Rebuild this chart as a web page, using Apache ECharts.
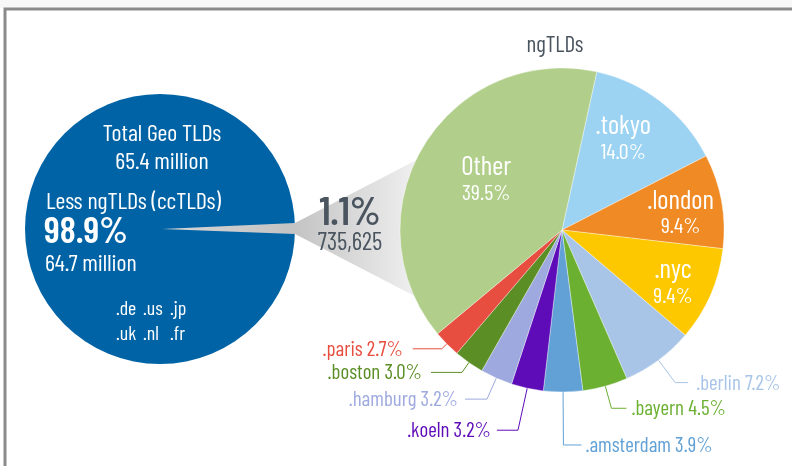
<!DOCTYPE html>
<html><head><meta charset="utf-8">
<script src="https://cdn.jsdelivr.net/npm/echarts@6/dist/echarts.min.js"></script>
<style>html,body{margin:0;padding:0;background:#fff}#c{width:792px;height:466px}</style>
</head><body><div id="c"></div>
<script>
// ---- data ----
const ngNames = ['.tokyo', '.london', '.nyc', '.berlin', '.bayern', '.amsterdam', '.koeln', '.hamburg', '.boston', '.paris', 'Other'];
const ngShares = [14.0, 9.4, 9.4, 7.2, 4.5, 3.9, 3.2, 3.2, 3.0, 2.7, 39.5];
const ngTitle = 'ngTLDs';
const geoTotalMillion = 65.4;
const geoTitleLines = ['Total Geo TLDs', '65.4 million'];
const ccLabel = 'Less ngTLDs (ccTLDs)';
const ccShare = '98.9%';
const ccCount = '64.7 million';
const ccExamples = [['.de', '.us', '.jp'], ['.uk', '.nl', '.fr']];
const ngShareOfTotal = '1.1%';
const ngCount = '735,625';

// ---- styles ----
const FONT = "'Barlow Condensed','Roboto Condensed','DejaVu Sans Condensed',sans-serif";
const ngColors = ['#9dd3f2', '#f08a24', '#fec800', '#a8c5e7', '#6cb032', '#62a1d5', '#5d0cb8', '#9eaadf', '#5b8e25', '#e74e40', '#b1cf8a'];
const inside = {'.tokyo': [10, -26], '.london': [36, -3], '.nyc': [34, 18], 'Other': [-4, -8]};
const lineLen = {'.berlin': [28, 13], '.bayern': [23, 15], '.amsterdam': [53, 18], '.koeln': [43, 21], '.hamburg': [23, 22], '.boston': [12, 31], '.paris': [7, 29]};
const labelGap = {'.berlin': 8, '.bayern': 5, '.amsterdam': 4, '.koeln': 6, '.hamburg': 7, '.boston': 9, '.paris': 10};
const DARK = '#4a5560';
const BLUE = '#0063a5';

const ngData = ngNames.map((n, i) => {
  const d = {name: n, value: ngShares[i], itemStyle: {color: ngColors[i]}};
  if (inside[n]) {
    d.label = {position: 'inside', formatter: '{n|' + n + '}\n{p|' + ngShares[i].toFixed(1) + '%}'};
    d.labelLine = {show: false};
  } else {
    d.label = {position: 'outside', color: ngColors[i], distanceToLabelLine: labelGap[n], formatter: n + ' ' + ngShares[i].toFixed(1) + '%'};
    d.labelLine = {show: true, length: lineLen[n][0], length2: lineLen[n][1], lineStyle: {color: ngColors[i], width: 1}};
  }
  return d;
});

const graphics = [
  {type: 'rect', shape: {x: 0, y: 0, width: 792, height: 8}, style: {fill: '#f7f7f7'}, z: 0, silent: true},
  {type: 'polyline', shape: {points: [[5, 466], [5, 9], [792, 9]]}, style: {stroke: '#8a8a8a', lineWidth: 3, fill: null}, z: 0, silent: true},
  {type: 'polygon', z: 5, silent: true,
    shape: {points: [[162, 229], [295, 223], [430, 153], [560, 153], [560, 305], [430, 304], [295, 234]]},
    style: {fill: {type: 'linear', x: 162, y: 0, x2: 415, y2: 0, global: true,
      colorStops: [{offset: 0, color: '#d6d6d6'}, {offset: 0.52, color: '#c3c3c3'}, {offset: 1, color: '#efefef'}]}}},
  {type: 'text', z: 20, style: {text: geoTitleLines[0], x: 162, y: 133, align: 'center', verticalAlign: 'middle', fill: '#fff', font: '24px ' + FONT}},
  {type: 'text', z: 20, style: {text: geoTitleLines[1], x: 162, y: 161, align: 'center', verticalAlign: 'middle', fill: '#fff', font: '24px ' + FONT}},
  {type: 'text', z: 20, style: {text: ccLabel, x: 46, y: 201, align: 'left', verticalAlign: 'middle', fill: '#fff', font: '24px ' + FONT}},
  {type: 'text', z: 20, style: {text: ccShare, x: 44, y: 231, align: 'left', verticalAlign: 'middle', fill: '#fff', font: '600 37px ' + FONT}},
  {type: 'text', z: 20, style: {text: ccCount, x: 45, y: 263, align: 'left', verticalAlign: 'middle', fill: '#fff', font: '24px ' + FONT}},
  {type: 'text', z: 20, style: {text: ngShareOfTotal, x: 350, y: 212, align: 'center', verticalAlign: 'middle', fill: DARK, font: '600 40px ' + FONT}},
  {type: 'text', z: 20, style: {text: ngCount, x: 350, y: 242, align: 'center', verticalAlign: 'middle', fill: DARK, font: '25px ' + FONT}},
  {type: 'text', z: 20, style: {text: ngTitle, x: 555, y: 44, align: 'center', verticalAlign: 'middle', fill: DARK, font: '23px ' + FONT}}
];
const colX = [116, 143, 170];
ccExamples.forEach((row, r) => row.forEach((t, c) => {
  graphics.push({type: 'text', z: 20, style: {text: t, x: colX[c], y: 308 + r * 25, align: 'left', verticalAlign: 'middle', fill: '#fff', font: '20px ' + FONT}});
}));

const chart = echarts.init(document.getElementById('c'), null, {renderer: 'canvas'});
chart.setOption({
  animation: false,
  backgroundColor: '#ffffff',
  graphic: {elements: graphics},
  series: [
    {
      type: 'pie', name: 'Geo TLDs', z: 1, silent: true,
      center: [160, 229], radius: 135,
      label: {show: false}, labelLine: {show: false},
      data: [{name: 'Total Geo TLDs', value: geoTotalMillion, itemStyle: {color: BLUE}}]
    },
    {
      type: 'pie', name: ngTitle, z: 8, silent: true,
      center: [562, 230], radius: 162, startAngle: 77.6, clockwise: true,
      avoidLabelOverlap: false,
      itemStyle: {borderColor: 'rgba(255,255,255,0.6)', borderWidth: 0.6},
      label: {show: true, fontFamily: FONT, fontSize: 21, color: '#fff',
        rich: {
          n: {fontFamily: FONT, fontSize: 27, color: '#fff', lineHeight: 28, align: 'center'},
          p: {fontFamily: FONT, fontSize: 22, color: '#fff', lineHeight: 25, align: 'center'}
        }},
      labelLayout: function (p) {
        const a = inside[ngNames[p.dataIndex]];
        if (a) return {dx: a[0], dy: a[1]};
        return {};
      },
      data: ngData
    }
  ]
});
</script>
</body></html>
